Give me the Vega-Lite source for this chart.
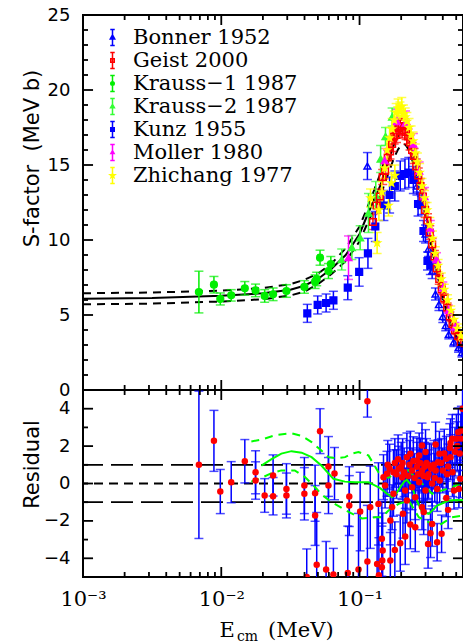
{
"$schema": "https://vega.github.io/schema/vega-lite/v6.json",
"background": "white",
"padding": {"left": 19, "top": 5, "right": 0, "bottom": 0},
"spacing": 0,
"bounds": "flush",
"config": {
  "view": {"stroke": "black", "strokeWidth": 2},
  "axis": {"domain": false, "grid": false, "ticks": false, "labelColor": "black", "titleColor": "black", "titleFontWeight": "normal", "labelFlush": false, "labelOverlap": false},
  "legend": {"labelFont": "DejaVu Serif", "labelFontSize": 21, "labelLimit": 400, "labelColor": "black", "symbolStrokeWidth": 1.5, "rowPadding": 0}
},
"datasets": {
  "xmaj": [{"t":0.001},{"t":0.01},{"t":0.1}],
  "xmin": [{"t":0.002},{"t":0.003},{"t":0.004},{"t":0.005},{"t":0.006},{"t":0.007},{"t":0.008},{"t":0.009},{"t":0.02},{"t":0.03},{"t":0.04},{"t":0.05},{"t":0.06},{"t":0.07},{"t":0.08},{"t":0.09},{"t":0.2},{"t":0.3},{"t":0.4},{"t":0.5}],
  "ymaj": [{"t":0},{"t":5},{"t":10},{"t":15},{"t":20},{"t":25}],
  "ymin": [{"t":1},{"t":2},{"t":3},{"t":4},{"t":6},{"t":7},{"t":8},{"t":9},{"t":11},{"t":12},{"t":13},{"t":14},{"t":16},{"t":17},{"t":18},{"t":19},{"t":21},{"t":22},{"t":23},{"t":24}],
  "rmaj": [{"t":-4},{"t":-2},{"t":0},{"t":2},{"t":4}],
  "rmin": [{"t":-3},{"t":-1},{"t":1},{"t":3}],
  "fit": [{"E":0.001,"S":6.09},{"E":0.00316,"S":6.13},{"E":0.01,"S":6.28},{"E":0.02,"S":6.45},{"E":0.0316,"S":6.68},{"E":0.0398,"S":6.95},{"E":0.05,"S":7.4},{"E":0.063,"S":8.1},{"E":0.0794,"S":9.0},{"E":0.1,"S":10.4},{"E":0.112,"S":11.5},{"E":0.126,"S":12.6},{"E":0.141,"S":13.6},{"E":0.158,"S":15.0},{"E":0.178,"S":16.4},{"E":0.19,"S":16.95},{"E":0.2,"S":17.3},{"E":0.209,"S":17.4},{"E":0.215,"S":17.35},{"E":0.224,"S":17.0},{"E":0.237,"S":16.3},{"E":0.251,"S":15.4},{"E":0.282,"S":13.2},{"E":0.316,"S":10.8},{"E":0.355,"S":8.4},{"E":0.398,"S":6.3},{"E":0.447,"S":4.7},{"E":0.501,"S":3.5},{"E":0.562,"S":2.5}],
  "up": [{"E":0.001,"S":6.45},{"E":0.00316,"S":6.5},{"E":0.01,"S":6.62},{"E":0.02,"S":6.8},{"E":0.0316,"S":7.05},{"E":0.0398,"S":7.35},{"E":0.05,"S":7.75},{"E":0.063,"S":8.45},{"E":0.0794,"S":9.45},{"E":0.1,"S":10.9},{"E":0.112,"S":12.0},{"E":0.126,"S":13.2},{"E":0.141,"S":14.4},{"E":0.158,"S":15.8},{"E":0.178,"S":17.3},{"E":0.19,"S":17.95},{"E":0.2,"S":18.25},{"E":0.209,"S":18.33},{"E":0.215,"S":18.25},{"E":0.224,"S":17.8},{"E":0.237,"S":16.9},{"E":0.251,"S":15.9},{"E":0.282,"S":13.6},{"E":0.316,"S":11.1},{"E":0.355,"S":8.6},{"E":0.398,"S":6.45},{"E":0.447,"S":4.8},{"E":0.501,"S":3.55},{"E":0.562,"S":2.55}],
  "lo": [{"E":0.001,"S":5.71},{"E":0.00316,"S":5.76},{"E":0.01,"S":5.9},{"E":0.02,"S":6.05},{"E":0.0316,"S":6.3},{"E":0.0398,"S":6.55},{"E":0.05,"S":7.05},{"E":0.063,"S":7.75},{"E":0.0794,"S":8.6},{"E":0.1,"S":9.9},{"E":0.112,"S":10.95},{"E":0.126,"S":11.95},{"E":0.141,"S":12.9},{"E":0.158,"S":14.2},{"E":0.178,"S":15.5},{"E":0.19,"S":16.05},{"E":0.2,"S":16.3},{"E":0.209,"S":16.4},{"E":0.215,"S":16.35},{"E":0.224,"S":16.1},{"E":0.237,"S":15.5},{"E":0.251,"S":14.8},{"E":0.282,"S":12.8},{"E":0.316,"S":10.5},{"E":0.355,"S":8.2},{"E":0.398,"S":6.15},{"E":0.447,"S":4.6},{"E":0.501,"S":3.45},{"E":0.562,"S":2.45}],
  "pts": [
    {"E":0.00689,"S":6.53,"e":1.39,"s":"Krauss−1 1987"},{"E":0.00885,"S":7.02,"e":0.55,"s":"Krauss−1 1987"},{"E":0.00984,"S":6.07,"e":0.4,"s":"Krauss−1 1987"},{"E":0.0118,"S":6.31,"e":0.38,"s":"Krauss−1 1987"},{"E":0.0148,"S":6.78,"e":0.45,"s":"Krauss−1 1987"},{"E":0.0177,"S":6.64,"e":0.42,"s":"Krauss−1 1987"},{"E":0.0206,"S":6.27,"e":0.42,"s":"Krauss−1 1987"},{"E":0.0237,"S":6.38,"e":0.42,"s":"Krauss−1 1987"},{"E":0.0296,"S":6.6,"e":0.42,"s":"Krauss−1 1987"},{"E":0.0399,"S":6.87,"e":0.42,"s":"Krauss−1 1987"},{"E":0.0477,"S":7.22,"e":0.45,"s":"Krauss−1 1987"},{"E":0.049,"S":7.4,"e":0.45,"s":"Krauss−1 1987"},{"E":0.0518,"S":8.82,"e":0.5,"s":"Krauss−1 1987"},{"E":0.0596,"S":7.93,"e":0.5,"s":"Krauss−1 1987"},{"E":0.062,"S":8.4,"e":0.5,"s":"Krauss−1 1987"},
    {"E":0.0743,"S":8.7,"e":0.7,"s":"Krauss−2 1987"},{"E":0.088,"S":9.5,"e":0.8,"s":"Krauss−2 1987"},{"E":0.101,"S":10.15,"e":0.8,"s":"Krauss−2 1987"},{"E":0.116,"S":11.8,"e":1.3,"s":"Krauss−2 1987"},{"E":0.131,"S":13.0,"e":0.9,"s":"Krauss−2 1987"},{"E":0.142,"S":15.4,"e":0.9,"s":"Krauss−2 1987"},{"E":0.154,"S":16.9,"e":0.6,"s":"Krauss−2 1987"},{"E":0.172,"S":18.2,"e":0.6,"s":"Krauss−2 1987"},
    {"E":0.0419,"S":5.11,"e":0.6,"s":"Kunz 1955"},{"E":0.0498,"S":5.67,"e":0.6,"s":"Kunz 1955"},{"E":0.0573,"S":5.8,"e":0.6,"s":"Kunz 1955"},{"E":0.0647,"S":5.98,"e":0.6,"s":"Kunz 1955"},{"E":0.0822,"S":6.82,"e":0.8,"s":"Kunz 1955"},{"E":0.0994,"S":7.87,"e":0.95,"s":"Kunz 1955"},{"E":0.115,"S":9.11,"e":1.0,"s":"Kunz 1955"},{"E":0.13,"S":10.9,"e":1.0,"s":"Kunz 1955"},{"E":0.15,"S":12.3,"e":1.0,"s":"Kunz 1955"},{"E":0.165,"S":13.0,"e":1.2,"s":"Kunz 1955"},{"E":0.18,"S":13.6,"e":1.0,"s":"Kunz 1955"},{"E":0.197,"S":14.27,"e":1.0,"s":"Kunz 1955"},{"E":0.213,"S":14.4,"e":1.0,"s":"Kunz 1955"},{"E":0.227,"S":14.5,"e":1.0,"s":"Kunz 1955"},{"E":0.245,"S":14.0,"e":0.9,"s":"Kunz 1955"},{"E":0.265,"S":12.4,"e":0.8,"s":"Kunz 1955"},{"E":0.29,"S":10.6,"e":0.7,"s":"Kunz 1955"},{"E":0.31,"S":8.6,"e":0.6,"s":"Kunz 1955"},{"E":0.325,"S":8.3,"e":0.6,"s":"Kunz 1955"},
    {"E":0.114,"S":14.93,"e":0.9,"s":"Bonner 1952"},{"E":0.26,"S":13.6,"e":0.6,"s":"Bonner 1952"},{"E":0.28,"S":12.3,"e":0.6,"s":"Bonner 1952"},{"E":0.3,"S":10.4,"e":0.6,"s":"Bonner 1952"},{"E":0.315,"S":9.4,"e":0.5,"s":"Bonner 1952"},{"E":0.335,"S":7.93,"e":0.5,"s":"Bonner 1952"},{"E":0.354,"S":6.4,"e":0.4,"s":"Bonner 1952"},{"E":0.375,"S":5.7,"e":0.4,"s":"Bonner 1952"},{"E":0.4,"S":4.9,"e":0.4,"s":"Bonner 1952"},{"E":0.42,"S":4.3,"e":0.35,"s":"Bonner 1952"},{"E":0.442,"S":3.71,"e":0.3,"s":"Bonner 1952"},{"E":0.48,"S":3.2,"e":0.3,"s":"Bonner 1952"},{"E":0.52,"S":2.82,"e":0.3,"s":"Bonner 1952"},{"E":0.55,"S":2.5,"e":0.3,"s":"Bonner 1952"},
    {"E":0.125,"S":11.2,"e":0.5,"s":"Geist 2000"},{"E":0.133,"S":12.3,"e":0.5,"s":"Geist 2000"},{"E":0.14,"S":12.9,"e":0.5,"s":"Geist 2000"},{"E":0.147,"S":14.2,"e":0.5,"s":"Geist 2000"},{"E":0.153,"S":14.6,"e":0.5,"s":"Geist 2000"},{"E":0.16,"S":15.5,"e":0.5,"s":"Geist 2000"},{"E":0.166,"S":15.9,"e":0.5,"s":"Geist 2000"},{"E":0.172,"S":16.4,"e":0.5,"s":"Geist 2000"},{"E":0.178,"S":16.9,"e":0.5,"s":"Geist 2000"},{"E":0.185,"S":17.0,"e":0.5,"s":"Geist 2000"},{"E":0.191,"S":17.5,"e":0.5,"s":"Geist 2000"},{"E":0.197,"S":17.6,"e":0.5,"s":"Geist 2000"},{"E":0.203,"S":17.3,"e":0.5,"s":"Geist 2000"},{"E":0.21,"S":17.6,"e":0.5,"s":"Geist 2000"},{"E":0.217,"S":17.2,"e":0.5,"s":"Geist 2000"},{"E":0.224,"S":16.9,"e":0.5,"s":"Geist 2000"},{"E":0.232,"S":16.5,"e":0.5,"s":"Geist 2000"},{"E":0.24,"S":16.0,"e":0.5,"s":"Geist 2000"},{"E":0.248,"S":15.6,"e":0.5,"s":"Geist 2000"},{"E":0.257,"S":14.9,"e":0.5,"s":"Geist 2000"},{"E":0.266,"S":14.3,"e":0.5,"s":"Geist 2000"},{"E":0.276,"S":13.6,"e":0.5,"s":"Geist 2000"},{"E":0.287,"S":12.9,"e":0.5,"s":"Geist 2000"},{"E":0.298,"S":12.0,"e":0.5,"s":"Geist 2000"},{"E":0.31,"S":11.3,"e":0.45,"s":"Geist 2000"},{"E":0.322,"S":10.5,"e":0.45,"s":"Geist 2000"},{"E":0.335,"S":9.7,"e":0.4,"s":"Geist 2000"},{"E":0.348,"S":8.9,"e":0.4,"s":"Geist 2000"},{"E":0.362,"S":8.1,"e":0.4,"s":"Geist 2000"},{"E":0.377,"S":7.4,"e":0.35,"s":"Geist 2000"},{"E":0.393,"S":6.7,"e":0.35,"s":"Geist 2000"},{"E":0.41,"S":6.1,"e":0.3,"s":"Geist 2000"},{"E":0.43,"S":5.5,"e":0.3,"s":"Geist 2000"},{"E":0.45,"S":4.9,"e":0.3,"s":"Geist 2000"},{"E":0.47,"S":4.4,"e":0.3,"s":"Geist 2000"},{"E":0.49,"S":4.0,"e":0.3,"s":"Geist 2000"},{"E":0.515,"S":3.6,"e":0.3,"s":"Geist 2000"},{"E":0.54,"S":3.2,"e":0.3,"s":"Geist 2000"},
    {"E":0.0832,"S":8.82,"e":1.45,"s":"Moller 1980"},{"E":0.152,"S":15.3,"e":0.8,"s":"Moller 1980"},{"E":0.186,"S":17.9,"e":0.8,"s":"Moller 1980"},{"E":0.215,"S":17.8,"e":0.8,"s":"Moller 1980"},{"E":0.245,"S":16.4,"e":0.7,"s":"Moller 1980"},{"E":0.27,"S":14.6,"e":0.6,"s":"Moller 1980"},{"E":0.295,"S":12.9,"e":0.6,"s":"Moller 1980"},{"E":0.325,"S":10.8,"e":0.5,"s":"Moller 1980"},{"E":0.36,"S":8.7,"e":0.45,"s":"Moller 1980"},{"E":0.4,"S":6.8,"e":0.4,"s":"Moller 1980"},{"E":0.44,"S":5.3,"e":0.35,"s":"Moller 1980"},{"E":0.49,"S":4.2,"e":0.3,"s":"Moller 1980"},
    {"E":0.12,"S":12.8,"e":0.6,"s":"Zhichang 1977"},{"E":0.134,"S":9.8,"e":0.7,"s":"Zhichang 1977"},{"E":0.138,"S":12.0,"e":0.7,"s":"Zhichang 1977"},{"E":0.145,"S":13.2,"e":0.7,"s":"Zhichang 1977"},{"E":0.152,"S":14.8,"e":0.7,"s":"Zhichang 1977"},{"E":0.158,"S":16.0,"e":0.7,"s":"Zhichang 1977"},{"E":0.162,"S":12.3,"e":0.7,"s":"Zhichang 1977"},{"E":0.165,"S":16.8,"e":0.7,"s":"Zhichang 1977"},{"E":0.17,"S":13.8,"e":0.7,"s":"Zhichang 1977"},{"E":0.172,"S":17.4,"e":0.7,"s":"Zhichang 1977"},{"E":0.178,"S":18.0,"e":0.6,"s":"Zhichang 1977"},{"E":0.18,"S":14.3,"e":0.7,"s":"Zhichang 1977"},{"E":0.184,"S":18.5,"e":0.6,"s":"Zhichang 1977"},{"E":0.19,"S":18.8,"e":0.6,"s":"Zhichang 1977"},{"E":0.196,"S":18.6,"e":0.6,"s":"Zhichang 1977"},{"E":0.202,"S":18.9,"e":0.6,"s":"Zhichang 1977"},{"E":0.208,"S":18.4,"e":0.6,"s":"Zhichang 1977"},{"E":0.214,"S":18.2,"e":0.6,"s":"Zhichang 1977"},{"E":0.22,"S":17.9,"e":0.6,"s":"Zhichang 1977"},{"E":0.228,"S":17.5,"e":0.6,"s":"Zhichang 1977"},{"E":0.236,"S":17.0,"e":0.6,"s":"Zhichang 1977"},{"E":0.244,"S":16.6,"e":0.6,"s":"Zhichang 1977"},{"E":0.253,"S":15.8,"e":0.6,"s":"Zhichang 1977"},{"E":0.262,"S":15.2,"e":0.6,"s":"Zhichang 1977"},{"E":0.272,"S":14.5,"e":0.6,"s":"Zhichang 1977"},{"E":0.283,"S":13.6,"e":0.5,"s":"Zhichang 1977"},{"E":0.295,"S":12.8,"e":0.5,"s":"Zhichang 1977"},{"E":0.308,"S":12.0,"e":0.5,"s":"Zhichang 1977"},{"E":0.322,"S":11.0,"e":0.5,"s":"Zhichang 1977"},{"E":0.337,"S":10.1,"e":0.5,"s":"Zhichang 1977"},{"E":0.353,"S":9.1,"e":0.45,"s":"Zhichang 1977"},{"E":0.37,"S":8.3,"e":0.4,"s":"Zhichang 1977"},{"E":0.39,"S":7.4,"e":0.4,"s":"Zhichang 1977"},{"E":0.41,"S":6.7,"e":0.35,"s":"Zhichang 1977"},{"E":0.433,"S":6.0,"e":0.35,"s":"Zhichang 1977"},{"E":0.457,"S":5.3,"e":0.3,"s":"Zhichang 1977"},{"E":0.483,"S":4.7,"e":0.3,"s":"Zhichang 1977"},{"E":0.51,"S":4.1,"e":0.3,"s":"Zhichang 1977"},{"E":0.54,"S":3.6,"e":0.3,"s":"Zhichang 1977"}
  ],
  "res": [
    {"E":0.00689,"R":1.0,"e":3.94},{"E":0.00885,"R":2.28,"e":1.63},{"E":0.00984,"R":-0.43,"e":1.18},{"E":0.0118,"R":0.07,"e":1.1},{"E":0.0148,"R":1.19,"e":1.16},{"E":0.0177,"R":0.6,"e":1.15},{"E":0.0177,"R":0.16,"e":1.0},{"E":0.0206,"R":-0.64,"e":0.9},{"E":0.0237,"R":0.43,"e":1.1},{"E":0.0237,"R":-0.68,"e":1.0},{"E":0.0296,"R":-0.29,"e":1.35},{"E":0.0296,"R":-0.64,"e":1.2},{"E":0.0399,"R":-0.11,"e":1.5},{"E":0.0399,"R":-0.55,"e":1.4},{"E":0.0477,"R":-0.52,"e":1.5},{"E":0.0477,"R":-1.71,"e":1.6},{"E":0.0518,"R":2.8,"e":1.2},{"E":0.0596,"R":0.91,"e":1.6},{"E":0.0659,"R":0.53,"e":1.4},{"E":0.0596,"R":-0.11,"e":1.5},{"E":0.049,"R":-4.35,"e":2.8},{"E":0.0415,"R":-5.0,"e":1.5},{"E":0.0573,"R":-4.6,"e":1.5},{"E":0.0647,"R":-4.87,"e":1.4},{"E":0.0822,"R":-4.78,"e":2.5},{"E":0.0843,"R":-0.7,"e":1.6},{"E":0.0843,"R":-1.18,"e":1.6},{"E":0.0983,"R":-4.6,"e":3.0},{"E":0.101,"R":-1.5,"e":2.1},{"E":0.114,"R":4.4,"e":0.85},{"E":0.114,"R":-4.17,"e":3.0},{"E":0.1195,"R":-1.27,"e":2.2},{"E":0.134,"R":-4.3,"e":2.5},{"E":0.137,"R":-1.09,"e":2.2},{"E":0.138,"R":-4.9,"e":2.0},{"E":0.145,"R":-2.96,"e":2.0},{"E":0.145,"R":-4.48,"e":2.2},{"E":0.147,"R":-3.58,"e":2.0},{"E":0.146,"R":-4.12,"e":2.0},{"E":0.167,"R":-4.12,"e":1.5},{"E":0.18,"R":-3.55,"e":1.5},{"E":0.197,"R":-3.19,"e":1.5},{"E":0.214,"R":-2.83,"e":1.5},{"E":0.233,"R":-2.19,"e":1.3},{"E":0.253,"R":-2.34,"e":1.3},{"E":0.313,"R":-3.23,"e":1.3},{"E":0.326,"R":-2.66,"e":1.3},{"E":0.364,"R":-3.14,"e":1.0},{"E":0.392,"R":-2.69,"e":1.0},{"E":0.167,"R":-1.98,"e":1.3},{"E":0.206,"R":-1.62,"e":1.3},{"E":0.291,"R":-1.53,"e":1.2},{"E":0.335,"R":-2.16,"e":1.2},{"E":0.437,"R":-1.41,"e":1.0},{"E":0.424,"R":-0.77,"e":1.0},{"E":0.482,"R":-0.37,"e":1.0},{"E":0.523,"R":-0.3,"e":1.0},{"E":0.535,"R":0.25,"e":1.0},{"E":0.283,"R":2.03,"e":1.2},{"E":0.355,"R":2.08,"e":1.2},{"E":0.378,"R":1.59,"e":1.2},{"E":0.455,"R":2.16,"e":1.3},{"E":0.468,"R":2.39,"e":1.3},{"E":0.502,"R":2.39,"e":1.3},{"E":0.518,"R":2.74,"e":1.3},{"E":0.424,"R":1.32,"e":1.2},{"E":0.455,"R":1.41,"e":1.2},{"E":0.437,"R":0.91,"e":1.2},{"E":0.233,"R":1.59,"e":1.2},{"E":0.26,"R":1.23,"e":1.2},{"E":0.3,"R":1.68,"e":1.2},{"E":0.27,"R":1.5,"e":1.2},{"E":0.32,"R":0.96,"e":1.2},{"E":0.192,"R":0.79,"e":1.2},{"E":0.176,"R":0.6,"e":1.2},{"E":0.158,"R":0.52,"e":1.2},{"E":0.149,"R":0.34,"e":1.2},{"E":0.153,"R":-0.11,"e":1.2},{"E":0.176,"R":-0.55,"e":1.2},{"E":0.172,"R":-1.27,"e":1.2},{"E":0.214,"R":-0.37,"e":1.2},{"E":0.203,"R":0.34,"e":1.2},{"E":0.24,"R":0.7,"e":1.2},{"E":0.283,"R":0.7,"e":1.2},{"E":0.31,"R":0.34,"e":1.2},{"E":0.335,"R":0.0,"e":1.2},{"E":0.364,"R":-0.29,"e":1.2},{"E":0.38,"R":0.16,"e":1.2},{"E":0.4,"R":0.7,"e":1.2},{"E":0.3,"R":-0.37,"e":1.2},{"E":0.27,"R":0.07,"e":1.2},{"E":0.24,"R":-0.2,"e":1.2},{"E":0.22,"R":-0.91,"e":1.2},{"E":0.283,"R":-1.27,"e":1.2},{"E":0.253,"R":-0.73,"e":1.2},{"E":0.355,"R":0.7,"e":1.2},{"E":0.37,"R":1.14,"e":1.2},{"E":0.16,"R":1.0,"e":1.3},{"E":0.165,"R":0.8,"e":1.3},{"E":0.18,"R":1.1,"e":1.3},{"E":0.185,"R":0.5,"e":1.3},{"E":0.19,"R":1.3,"e":1.3},{"E":0.2,"R":0.9,"e":1.3},{"E":0.205,"R":1.1,"e":1.3},{"E":0.21,"R":0.6,"e":1.3},{"E":0.22,"R":1.4,"e":1.3},{"E":0.225,"R":0.4,"e":1.3},{"E":0.23,"R":1.0,"e":1.3},{"E":0.245,"R":1.2,"e":1.3},{"E":0.25,"R":0.3,"e":1.3},{"E":0.26,"R":0.9,"e":1.3},{"E":0.265,"R":0.5,"e":1.3},{"E":0.275,"R":1.1,"e":1.3},{"E":0.29,"R":0.4,"e":1.3},{"E":0.295,"R":0.9,"e":1.3},{"E":0.305,"R":1.1,"e":1.3},{"E":0.315,"R":0.5,"e":1.3},{"E":0.33,"R":0.8,"e":1.3},{"E":0.345,"R":1.0,"e":1.3},{"E":0.35,"R":0.3,"e":1.3},{"E":0.39,"R":1.1,"e":1.3},{"E":0.41,"R":1.6,"e":1.3},{"E":0.43,"R":0.5,"e":1.3},{"E":0.45,"R":1.9,"e":1.3},{"E":0.47,"R":0.6,"e":1.3},{"E":0.49,"R":1.7,"e":1.3},{"E":0.51,"R":2.0,"e":1.3},{"E":0.53,"R":1.6,"e":1.3},{"E":0.556,"R":4.0,"e":1.2},{"E":0.545,"R":2.83,"e":1.3},{"E":0.54,"R":2.4,"e":1.3}
  ],
  "gfit": [{"E":0.0195,"R":0.96},{"E":0.0231,"R":1.3},{"E":0.0272,"R":1.6},{"E":0.0322,"R":1.73},{"E":0.0381,"R":1.65},{"E":0.045,"R":1.41},{"E":0.0532,"R":0.95},{"E":0.0647,"R":0.25},{"E":0.0782,"R":0.1},{"E":0.0929,"R":0.07},{"E":0.116,"R":0.07},{"E":0.141,"R":-0.25},{"E":0.158,"R":-0.55},{"E":0.172,"R":-0.73},{"E":0.184,"R":-0.55},{"E":0.197,"R":-0.2},{"E":0.21,"R":0.1},{"E":0.22,"R":0.2},{"E":0.237,"R":-0.1},{"E":0.26,"R":-0.91},{"E":0.283,"R":-1.53},{"E":0.317,"R":-1.62},{"E":0.364,"R":-1.18},{"E":0.442,"R":-0.91},{"E":0.509,"R":-0.88},{"E":0.562,"R":-0.9}],
  "gup": [{"E":0.0165,"R":2.25},{"E":0.0195,"R":2.35},{"E":0.0251,"R":2.6},{"E":0.0322,"R":2.69},{"E":0.0381,"R":2.55},{"E":0.045,"R":2.21},{"E":0.0532,"R":1.75},{"E":0.0596,"R":1.41},{"E":0.0685,"R":1.35},{"E":0.0786,"R":1.41},{"E":0.088,"R":1.6},{"E":0.0983,"R":1.68},{"E":0.116,"R":1.5},{"E":0.137,"R":0.6},{"E":0.162,"R":0.3},{"E":0.192,"R":0.7},{"E":0.214,"R":0.87},{"E":0.24,"R":0.5},{"E":0.283,"R":0.0},{"E":0.335,"R":-0.55},{"E":0.396,"R":-0.37},{"E":0.467,"R":-0.2},{"E":0.562,"R":0.07}],
  "glo": [{"E":0.0165,"R":0.1},{"E":0.0195,"R":0.3},{"E":0.0231,"R":0.55},{"E":0.0272,"R":0.7},{"E":0.034,"R":0.7},{"E":0.0403,"R":0.34},{"E":0.049,"R":-0.29},{"E":0.0532,"R":-0.6},{"E":0.0629,"R":-1.0},{"E":0.0832,"R":-1.52},{"E":0.104,"R":-1.87},{"E":0.13,"R":-1.8},{"E":0.145,"R":-1.8},{"E":0.162,"R":-1.44},{"E":0.192,"R":-1.09},{"E":0.227,"R":-0.91},{"E":0.268,"R":-1.8},{"E":0.317,"R":-2.07},{"E":0.374,"R":-2.25},{"E":0.467,"R":-1.8},{"E":0.562,"R":-1.71}],
  "h0": [{"v":0}],
  "h1": [{"v":1},{"v":-1}]
},
"vconcat": [
  {
    "width": 380, "height": 375,
    "layer": [
      {"data": {"name": "fit"}, "mark": {"type": "line", "color": "black", "strokeWidth": 2, "clip": true},
       "encoding": {
         "x": {"field": "E", "type": "quantitative", "scale": {"type": "log", "domain": [0.001, 0.56], "nice": false}, "axis": null},
         "y": {"field": "S", "type": "quantitative", "scale": {"domain": [0, 25], "nice": false, "zero": false},
               "axis": {"orient": "left", "values": [0, 5, 10, 15, 20, 25], "ticks": false, "labelPadding": 13, "labelFont": "DejaVu Sans", "labelFontSize": 18, "title": "S-factor\u00a0\u00a0(MeV b)", "titleFont": "DejaVu Sans", "titleFontSize": 21, "titleAngle": -90, "titleX": -51, "titleY": 143, "titleAlign": "center", "titleBaseline": "middle"}}
       }},
      {"data": {"name": "up"}, "mark": {"type": "line", "color": "black", "strokeWidth": 2, "strokeDash": [8, 6], "clip": true},
       "encoding": {
         "x": {"field": "E", "type": "quantitative", "axis": null},
         "y": {"field": "S", "type": "quantitative", "axis": null}
       }},
      {"data": {"name": "lo"}, "mark": {"type": "line", "color": "black", "strokeWidth": 2, "strokeDash": [8, 6], "clip": true},
       "encoding": {
         "x": {"field": "E", "type": "quantitative", "axis": null},
         "y": {"field": "S", "type": "quantitative", "axis": null}
       }},
      {"data": {"name": "pts"}, "mark": {"type": "errorbar", "ticks": {"size": 9, "thickness": 1.5}, "thickness": 1.5, "clip": true},
       "encoding": {
         "x": {"field": "E", "type": "quantitative", "axis": null},
         "y": {"field": "S", "type": "quantitative", "axis": null},
         "yError": {"field": "e"},
         "color": {"field": "s", "type": "nominal", "legend": null,
                   "scale": {"domain": ["Bonner 1952","Geist 2000","Krauss−1 1987","Krauss−2 1987","Kunz 1955","Moller 1980","Zhichang 1977"],
                             "range": ["#0000ff","#ff0000","#00ee00","#33ff33","#0000ff","#ff00ff","#ffff00"]}}
       }},
      {"data": {"name": "pts"}, "mark": {"type": "point", "opacity": 1, "strokeWidth": 1.5, "size": 45, "clip": true},
       "encoding": {
         "x": {"field": "E", "type": "quantitative", "axis": null},
         "y": {"field": "S", "type": "quantitative", "axis": null},
         "stroke": {"field": "s", "type": "nominal", "legend": null,
                   "scale": {"domain": ["Bonner 1952","Geist 2000","Krauss−1 1987","Krauss−2 1987","Kunz 1955","Moller 1980","Zhichang 1977"],
                             "range": ["#0000ff","#ff0000","#00ee00","#33ff33","#0000ff","#ff00ff","#ffff00"]}},
         "fill": {"field": "s", "type": "nominal", "legend": null,
                   "scale": {"domain": ["Bonner 1952","Geist 2000","Krauss−1 1987","Krauss−2 1987","Kunz 1955","Moller 1980","Zhichang 1977"],
                             "range": ["transparent","transparent","#00ee00","#33ff33","#0000ff","#ff00ff","#ffff00"]}},
         "shape": {"field": "s", "type": "nominal", "legend": null,
                   "scale": {"domain": ["Bonner 1952","Geist 2000","Krauss−1 1987","Krauss−2 1987","Kunz 1955","Moller 1980","Zhichang 1977"],
                             "range": ["triangle-up","square","circle","triangle-up","square","triangle-up","M0,-1L0.235,-0.324L0.951,-0.309L0.38,0.124L0.588,0.809L0,0.4L-0.588,0.809L-0.38,0.124L-0.951,-0.309L-0.235,-0.324Z"]}}
       }},
      {"data": {"values": []}, "mark": {"type": "point", "filled": false, "opacity": 1, "strokeWidth": 1.5},
       "encoding": {
         "x": {"field": "E", "type": "quantitative", "axis": null},
         "y": {"field": "S", "type": "quantitative", "axis": null},
         "color": {"field": "s", "type": "nominal",
                   "scale": {"domain": ["Bonner 1952","Geist 2000","Krauss−1 1987","Krauss−2 1987","Kunz 1955","Moller 1980","Zhichang 1977"],
                             "range": ["#0000ff","#ff0000","#00ee00","#33ff33","#0000ff","#ff00ff","#ffff00"]},
                   "legend": {"orient": "none", "legendX": 19, "legendY": 12, "title": null, "labelFont": "DejaVu Serif", "labelFontSize": 21, "labelLimit": 400, "symbolSize": 256, "symbolStrokeWidth": 1.5, "rowPadding": 0, "labelOffset": 10, "padding": 0}},
         "shape": {"field": "s", "type": "nominal",
                   "scale": {"domain": ["Bonner 1952","Geist 2000","Krauss−1 1987","Krauss−2 1987","Kunz 1955","Moller 1980","Zhichang 1977"],
                             "range": [
                               "M-0.28,-1H0.28M0,-1V1M-0.28,1H0.28M0,-0.32L0.28,0.2L-0.28,0.2Z",
                               "M-0.28,-1H0.28M0,-1V1M-0.28,1H0.28M-0.22,-0.22H0.22V0.22H-0.22Z",
                               "M-0.28,-1H0.28M0,-1V1M-0.28,1H0.28M-0.22,0A0.22,0.22,0,1,1,0.22,0A0.22,0.22,0,1,1,-0.22,0ZM-0.12,0A0.12,0.12,0,1,1,0.12,0A0.12,0.12,0,1,1,-0.12,0ZM-0.04,0A0.04,0.04,0,1,1,0.04,0A0.04,0.04,0,1,1,-0.04,0Z",
                               "M-0.28,-1H0.28M0,-1V1M-0.28,1H0.28M0,-0.28L0.24,0.16L-0.24,0.16ZM0,-0.12L0.1,0.08L-0.1,0.08Z",
                               "M-0.28,-1H0.28M0,-1V1M-0.28,1H0.28M-0.22,-0.22H0.22V0.22H-0.22ZM-0.12,-0.12H0.12V0.12H-0.12ZM-0.03,-0.03H0.03V0.03H-0.03Z",
                               "M-0.28,-1H0.28M0,-1V1M-0.28,1H0.28M0,-0.25L0.2,0.12L-0.2,0.12ZM0,-0.1L0.08,0.06L-0.08,0.06Z",
                               "M-0.28,-1H0.28M0,-1V1M-0.28,1H0.28M0,-0.3L0.07,-0.097L0.285,-0.093L0.114,0.037L0.176,0.243L0,0.12L-0.176,0.243L-0.114,0.037L-0.285,-0.093L-0.07,-0.097ZM0,-0.15L0.035,-0.049L0.143,-0.046L0.057,0.019L0.088,0.121L0,0.06L-0.088,0.121L-0.057,0.019L-0.143,-0.046L-0.035,-0.049Z"]},
                   "legend": {"orient": "none", "legendX": 19, "legendY": 12, "title": null, "labelFont": "DejaVu Serif", "labelFontSize": 21, "labelLimit": 400, "symbolSize": 256, "symbolStrokeWidth": 1.5, "rowPadding": 0, "labelOffset": 10, "padding": 0}}
       }},
      {"data": {"name": "xmaj"}, "mark": {"type": "rule", "color": "black", "strokeWidth": 1.8},
       "encoding": {"x": {"field": "t", "type": "quantitative", "axis": null}, "y": {"datum": 0, "type": "quantitative", "axis": null}, "y2": {"datum": 0.667}}},
      {"data": {"name": "xmaj"}, "mark": {"type": "rule", "color": "black", "strokeWidth": 1.8},
       "encoding": {"x": {"field": "t", "type": "quantitative", "axis": null}, "y": {"datum": 25, "type": "quantitative", "axis": null}, "y2": {"datum": 24.333}}},
      {"data": {"name": "xmin"}, "mark": {"type": "rule", "color": "black", "strokeWidth": 1.8},
       "encoding": {"x": {"field": "t", "type": "quantitative", "axis": null}, "y": {"datum": 0, "type": "quantitative", "axis": null}, "y2": {"datum": 0.333}}},
      {"data": {"name": "xmin"}, "mark": {"type": "rule", "color": "black", "strokeWidth": 1.8},
       "encoding": {"x": {"field": "t", "type": "quantitative", "axis": null}, "y": {"datum": 25, "type": "quantitative", "axis": null}, "y2": {"datum": 24.667}}},
      {"data": {"name": "ymaj"}, "mark": {"type": "rule", "color": "black", "strokeWidth": 1.8},
       "encoding": {"y": {"field": "t", "type": "quantitative", "axis": null}, "x": {"datum": 0.001, "type": "quantitative", "axis": null}, "x2": {"datum": 0.001182}}},
      {"data": {"name": "ymaj"}, "mark": {"type": "rule", "color": "black", "strokeWidth": 1.8},
       "encoding": {"y": {"field": "t", "type": "quantitative", "axis": null}, "x": {"datum": 0.56, "type": "quantitative", "axis": null}, "x2": {"datum": 0.4738}}},
      {"data": {"name": "ymin"}, "mark": {"type": "rule", "color": "black", "strokeWidth": 1.8},
       "encoding": {"y": {"field": "t", "type": "quantitative", "axis": null}, "x": {"datum": 0.001, "type": "quantitative", "axis": null}, "x2": {"datum": 0.001087}}},
      {"data": {"name": "ymin"}, "mark": {"type": "rule", "color": "black", "strokeWidth": 1.8},
       "encoding": {"y": {"field": "t", "type": "quantitative", "axis": null}, "x": {"datum": 0.56, "type": "quantitative", "axis": null}, "x2": {"datum": 0.5151}}}
    ],
    "resolve": {"axis": {"x": "independent", "y": "independent"}, "scale": {"color": "independent", "stroke": "independent", "fill": "independent", "shape": "independent"}}
  },
  {
    "width": 380, "height": 187,
    "layer": [
      {"data": {"name": "h1"}, "mark": {"type": "rule", "color": "black", "strokeWidth": 1.8, "strokeDash": [22, 8]},
       "encoding": {
         "y": {"field": "v", "type": "quantitative", "scale": {"domain": [-5, 5], "nice": false, "zero": false}, "axis": null}
       }},
      {"data": {"name": "h0"}, "mark": {"type": "rule", "color": "black", "strokeWidth": 1.8, "strokeDash": [9, 6]},
       "encoding": {
         "y": {"field": "v", "type": "quantitative", "scale": {"domain": [-5, 5], "nice": false, "zero": false},
               "axis": {"orient": "left", "values": [-4, -2, 0, 2, 4], "ticks": false, "labelPadding": 13, "labelFont": "DejaVu Sans", "labelFontSize": 18, "title": "Residual", "titleFont": "DejaVu Sans", "titleFontSize": 21, "titleAngle": -90, "titleX": -51, "titleY": 74, "titleAlign": "center", "titleBaseline": "middle"}}
       }},
      {"data": {"name": "res"}, "mark": {"type": "errorbar", "color": "#0000ff", "ticks": {"size": 9, "thickness": 1.5, "color": "#0000ff"}, "thickness": 1.5, "clip": true},
       "encoding": {
         "x": {"field": "E", "type": "quantitative", "scale": {"type": "log", "domain": [0.001, 0.56], "nice": false}, "axis": null},
         "y": {"field": "R", "type": "quantitative", "scale": {"domain": [-5, 5], "nice": false, "zero": false}, "axis": null},
         "yError": {"field": "e"}
       }},
      {"data": {"name": "gfit"}, "mark": {"type": "line", "color": "#00ff00", "strokeWidth": 2, "clip": true},
       "encoding": {
         "x": {"field": "E", "type": "quantitative", "scale": {"type": "log", "domain": [0.001, 0.56], "nice": false},
               "axis": {"orient": "bottom", "values": [0.001, 0.01, 0.1], "ticks": false, "labelPadding": 11, "labelExpr": "datum.value < 0.005 ? '10⁻³' : (datum.value < 0.05 ? '10⁻²' : '10⁻¹')", "labelFont": "DejaVu Serif", "labelFontSize": 21, "labelBaseline": "top", "title": "E\u00a0\u00a0\u00a0\u00a0\u00a0(MeV)", "titleFont": "DejaVu Serif", "titleFontSize": 21, "titleX": 193, "titleY": 59, "titleAlign": "center", "titleBaseline": "alphabetic"}},
         "y": {"field": "R", "type": "quantitative", "axis": null}
       }},
      {"data": {"name": "gup"}, "mark": {"type": "line", "color": "#00ff00", "strokeWidth": 2, "strokeDash": [8, 6], "clip": true},
       "encoding": {
         "x": {"field": "E", "type": "quantitative",
               "axis": {"orient": "bottom", "values": [0.01], "ticks": false, "labels": false, "title": "cm", "titleFont": "DejaVu Serif", "titleFontSize": 14, "titleX": 164, "titleY": 63, "titleAlign": "center", "titleBaseline": "alphabetic"}},
         "y": {"field": "R", "type": "quantitative", "axis": null}
       }},
      {"data": {"name": "glo"}, "mark": {"type": "line", "color": "#00ff00", "strokeWidth": 2, "strokeDash": [8, 6], "clip": true},
       "encoding": {
         "x": {"field": "E", "type": "quantitative", "axis": null},
         "y": {"field": "R", "type": "quantitative", "axis": null}
       }},
      {"data": {"name": "res"}, "mark": {"type": "circle", "color": "#ff0000", "size": 42, "opacity": 1, "clip": true},
       "encoding": {
         "x": {"field": "E", "type": "quantitative", "axis": null},
         "y": {"field": "R", "type": "quantitative", "axis": null}
       }},
      {"data": {"name": "xmaj"}, "mark": {"type": "rule", "color": "black", "strokeWidth": 1.8},
       "encoding": {"x": {"field": "t", "type": "quantitative", "axis": null}, "y": {"datum": -5, "type": "quantitative", "axis": null}, "y2": {"datum": -4.465}}},
      {"data": {"name": "xmaj"}, "mark": {"type": "rule", "color": "black", "strokeWidth": 1.8},
       "encoding": {"x": {"field": "t", "type": "quantitative", "axis": null}, "y": {"datum": 5, "type": "quantitative", "axis": null}, "y2": {"datum": 4.465}}},
      {"data": {"name": "xmin"}, "mark": {"type": "rule", "color": "black", "strokeWidth": 1.8},
       "encoding": {"x": {"field": "t", "type": "quantitative", "axis": null}, "y": {"datum": -5, "type": "quantitative", "axis": null}, "y2": {"datum": -4.733}}},
      {"data": {"name": "xmin"}, "mark": {"type": "rule", "color": "black", "strokeWidth": 1.8},
       "encoding": {"x": {"field": "t", "type": "quantitative", "axis": null}, "y": {"datum": 5, "type": "quantitative", "axis": null}, "y2": {"datum": 4.733}}},
      {"data": {"name": "rmaj"}, "mark": {"type": "rule", "color": "black", "strokeWidth": 1.8},
       "encoding": {"y": {"field": "t", "type": "quantitative", "axis": null}, "x": {"datum": 0.001, "type": "quantitative", "axis": null}, "x2": {"datum": 0.001182}}},
      {"data": {"name": "rmaj"}, "mark": {"type": "rule", "color": "black", "strokeWidth": 1.8},
       "encoding": {"y": {"field": "t", "type": "quantitative", "axis": null}, "x": {"datum": 0.56, "type": "quantitative", "axis": null}, "x2": {"datum": 0.4738}}},
      {"data": {"name": "rmin"}, "mark": {"type": "rule", "color": "black", "strokeWidth": 1.8},
       "encoding": {"y": {"field": "t", "type": "quantitative", "axis": null}, "x": {"datum": 0.001, "type": "quantitative", "axis": null}, "x2": {"datum": 0.001087}}},
      {"data": {"name": "rmin"}, "mark": {"type": "rule", "color": "black", "strokeWidth": 1.8},
       "encoding": {"y": {"field": "t", "type": "quantitative", "axis": null}, "x": {"datum": 0.56, "type": "quantitative", "axis": null}, "x2": {"datum": 0.5151}}}
    ],
    "resolve": {"axis": {"x": "independent", "y": "independent"}}
  }
]
}
